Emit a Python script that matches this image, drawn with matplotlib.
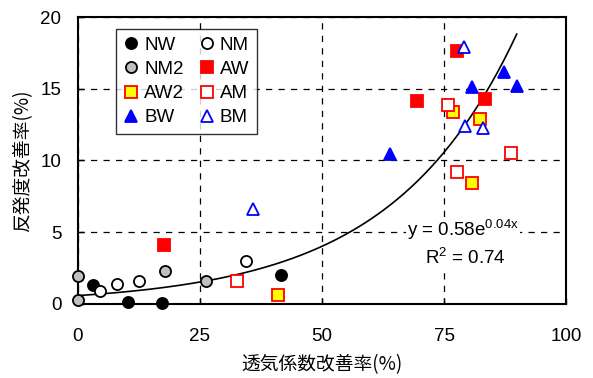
import numpy as np
import matplotlib.pyplot as plt

plt.rcParams['font.family'] = ['Liberation Sans', 'Noto Sans CJK JP', 'DejaVu Sans']
plt.rcParams['mathtext.fontset'] = 'custom'
plt.rcParams['mathtext.rm'] = 'Liberation Sans'
plt.rcParams['mathtext.it'] = 'Liberation Sans'

# 透気係数改善率 (x), 反発度改善率 (y)
nw_x = [3.0, 10.2, 17.2, 41.7]
nw_y = [1.3, 0.15, 0.05, 2.05]
nm_x = [4.5, 7.9, 12.6, 34.4]
nm_y = [0.9, 1.4, 1.6, 3.0]
nm2_x = [0.0, 0.0, 17.8, 26.2]
nm2_y = [1.95, 0.25, 2.3, 1.6]
aw_x = [17.7, 69.5, 77.7, 83.4]
aw_y = [4.1, 14.15, 17.6, 14.3]
aw2_x = [41.0, 76.8, 82.4, 80.8]
aw2_y = [0.65, 13.4, 12.9, 8.4]
am_x = [32.5, 75.8, 77.6, 88.7]
am_y = [1.6, 13.9, 9.2, 10.5]
bw_x = [63.9, 80.7, 87.2, 89.9]
bw_y = [10.45, 15.1, 16.2, 15.2]
bm_x = [35.9, 79.1, 79.2, 82.9]
bm_y = [6.6, 17.9, 12.4, 12.25]

# 近似曲線 y = a*exp(b*x)
fit_a = 0.58
fit_b = 0.0387
fit_xmax = 89.9

fig = plt.figure(figsize=(5.93, 3.78), dpi=100)
ax = fig.add_axes([0.1315, 0.196, 0.823, 0.759])

ax.grid(True, color='black', linestyle=(0, (5, 5)), linewidth=0.9)
ax.set_axisbelow(True)

xf = np.linspace(0, fit_xmax, 200)
ax.plot(xf, fit_a * np.exp(fit_b * xf), color='black', linewidth=1.2, zorder=2)

ms = 8
styles = [
    ('NW', nw_x, nw_y, dict(marker='o', mfc='black', mec='black', ms=ms)),
    ('NM', nm_x, nm_y, dict(marker='o', mfc='white', mec='black', ms=ms)),
    ('NM2', nm2_x, nm2_y, dict(marker='o', mfc='#BFBFBF', mec='black', ms=ms)),
    ('AW', aw_x, aw_y, dict(marker='s', mfc='red', mec='red', ms=ms)),
    ('AW2', aw2_x, aw2_y, dict(marker='s', mfc='yellow', mec='red', ms=ms)),
    ('AM', am_x, am_y, dict(marker='s', mfc='white', mec='red', ms=ms)),
    ('BW', bw_x, bw_y, dict(marker='^', mfc='blue', mec='blue', ms=ms + 1)),
    ('BM', bm_x, bm_y, dict(marker='^', mfc='white', mec='blue', ms=ms + 1)),
]
handles = {}
for name, xs, ys, st in styles:
    h, = ax.plot(xs, ys, linestyle='none', mew=1.3, zorder=3, label=name,
                 clip_on=False, **st)
    handles[name] = h

order = ['NW', 'NM2', 'AW2', 'BW', 'NM', 'AW', 'AM', 'BM']
leg = ax.legend([handles[k] for k in order], order, ncol=2, loc='upper left',
                bbox_to_anchor=(0.078, 0.958), fontsize=13.5, frameon=True, fancybox=False,
                edgecolor='black', handlelength=0.8, handletextpad=0.3, columnspacing=0.8,
                labelspacing=0.38, borderpad=0.4, borderaxespad=0)
leg.get_frame().set_linewidth(1.0)

ax.text(78.9, 5.15, 'y = 0.58e$^{\\mathrm{0.04x}}$', fontsize=13.5, ha='center', va='center',
        bbox=dict(facecolor='white', edgecolor='none', pad=1))
ax.text(79.3, 3.2, 'R$^{\\mathrm{2}}$ = 0.74', fontsize=13.5, ha='center', va='center',
        bbox=dict(facecolor='white', edgecolor='none', pad=1))

ax.set_xlim(0, 100)
ax.set_ylim(0, 20)
ax.set_xticks([0, 25, 50, 75, 100])
ax.set_yticks([0, 5, 10, 15, 20])
ax.tick_params(labelsize=13.5, direction='in', length=4, width=1)
ax.tick_params(axis='x', pad=17)
ax.tick_params(axis='y', pad=12)
for s in ax.spines.values():
    s.set_linewidth(1.5)

ax.set_xlabel('透気係数改善率(%)', fontsize=13.5, labelpad=7,
              family=['Noto Sans CJK JP', 'DejaVu Sans'])
ax.set_ylabel('反発度改善率(%)', fontsize=13.5, labelpad=5,
              family=['Noto Sans CJK JP', 'DejaVu Sans'])

fig.savefig('out.png', dpi=100)
